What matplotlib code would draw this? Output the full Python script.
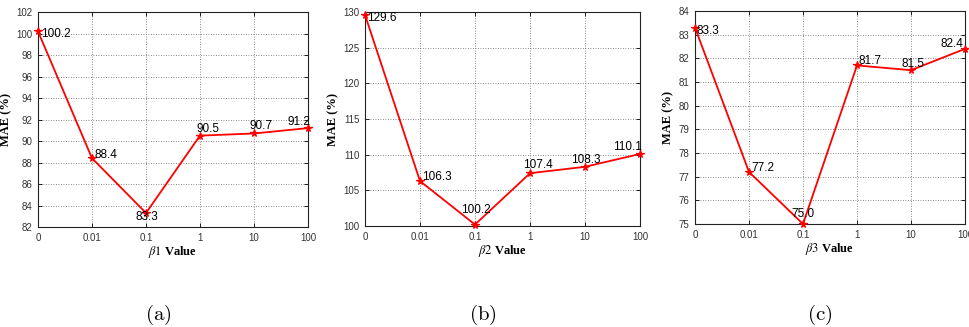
import matplotlib
matplotlib.use("Agg")
import matplotlib.pyplot as plt

categories = ['0', '0.01', '0.1', '1', '10', '100']
mae_b1 = [100.2, 88.4, 83.3, 90.5, 90.7, 91.2]
mae_b2 = [129.6, 106.3, 100.2, 107.4, 108.3, 110.1]
mae_b3 = [83.3, 77.2, 75.0, 81.7, 81.5, 82.4]
xlabels = [r'$\beta 1$ Value', r'$\beta 2$ Value', r'$\beta 3$ Value']
captions = ['(a)', '(b)', '(c)']

plt.rcParams['mathtext.fontset'] = 'stix'

fig = plt.figure(figsize=(9.7, 3.27), dpi=100)
PX = 0.72  # points per pixel

panels = [
    dict(data=mae_b1, rect=[38/970, 1-227/327, 270/970, 215/327], ylim=(82, 102), step=2,
         offs=[(3, -3, 'left'), (3, 3, 'left'), (1, -4, 'center'), (-3, 7, 'left'), (-4, 7, 'left'), (2, 6, 'right')],
         cap_x=158),
    dict(data=mae_b2, rect=[365/970, 1-226/327, 275/970, 214/327], ylim=(100, 130), step=5,
         offs=[(2, -3, 'left'), (2, 4, 'left'), (1, 15, 'center'), (-7, 8, 'left'), (-14, 7, 'left'), (2, 7, 'right')],
         cap_x=483),
    dict(data=mae_b3, rect=[695/970, 1-224/327, 270/970, 213/327], ylim=(75, 84), step=1,
         offs=[(2, -3, 'left'), (2, 4, 'left'), (0, 10, 'center'), (2, 4, 'left'), (2, 6, 'center'), (-2, 5, 'right')],
         cap_x=820),
]

x = list(range(len(categories)))
for i, p in enumerate(panels):
    ax = fig.add_axes(p['rect'])
    ax.plot(x, p['data'], color='red', lw=1.3, marker='*', ms=5.5, mew=0.9, zorder=3, clip_on=False)
    ax.set_xlim(0, len(categories) - 1)
    lo, hi = p['ylim']
    ax.set_ylim(lo, hi)
    ax.set_yticks([lo + k * p['step'] for k in range(int(round((hi - lo) / p['step'])) + 1)])
    ax.set_xticks(x)
    ax.set_xticklabels(categories)
    ax.grid(True, color='#666666', linestyle=(0, (1, 2)), lw=0.6)
    ax.tick_params(direction='in', length=3, width=0.6, labelsize=7, labelcolor='#333333',
                   top=True, right=True, pad=4)
    for lab in ax.get_xticklabels() + ax.get_yticklabels():
        lab.set_family('Liberation Sans')
    for s in ax.spines.values():
        s.set_linewidth(0.8)
        s.set_color('#222222')
    ax.set_ylabel('MAE (%)', family='Liberation Serif', fontweight='bold', fontsize=9, labelpad=3)
    ax.set_xlabel(xlabels[i], family='Liberation Serif', fontweight='bold', fontsize=9, labelpad=1)
    for j, v in enumerate(p['data']):
        dx, dy, ha = p['offs'][j]
        ax.annotate(f'{v:.1f}', (x[j], v), xytext=(dx * PX, dy * PX), textcoords='offset points',
                    ha=ha, va='center', fontsize=8.5, family='Liberation Sans', color='black',
                    zorder=4, annotation_clip=False)
    fig.text(p['cap_x'] / 970, 1 - 315 / 327, r'$\mathrm{' + captions[i] + '}$', ha='center', va='center',
             fontsize=15, math_fontfamily='cm')

fig.savefig('out.png', dpi=100)
